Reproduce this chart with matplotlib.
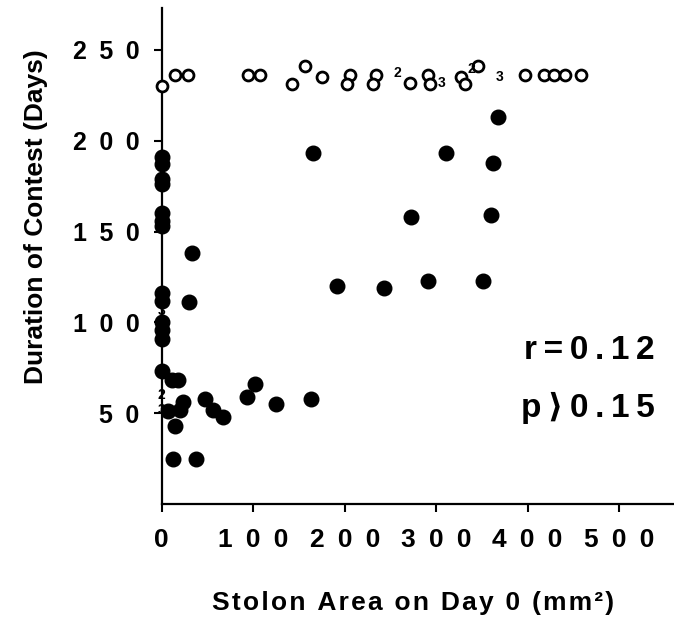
#Bibliotecas utilizadas.
import matplotlib.pyplot as plt
import numpy as np

#Fonte: Liberation Sans com DejaVu Sans para os sinais que faltam.
plt.rcParams['font.family'] = ['Liberation Sans', 'DejaVu Sans']
plt.rcParams['font.weight'] = 'bold'

#Pontos cheios (area do estolao, duracao).
cheios_x = [0, 0, 0, 0, 0, 0, 0, 0, 0, 0, 0, 0, 0,
            10.9, 18.1, 23.6, 7.2, 20, 14.5, 47.3, 56.3, 66.6, 101.9, 93.5, 124.8,
            12, 37.4, 32.7, 30, 165.5, 192, 242.7, 163.7,
            367.5, 310.4, 362.4, 272.9, 360.3, 291, 350.8]
cheios_y = [191, 187, 179, 176, 160, 156, 153, 116, 112, 100, 96, 91, 73,
            68, 68, 56, 51, 52, 43, 58, 52, 48, 66, 59, 55,
            25, 25, 138, 111, 193, 120, 119, 58,
            213, 193, 188, 158, 159, 123, 123]

#Pontos abertos (linha de cima).
abertos_x = [0, 14.5, 29, 94.5, 107.3, 141.9, 156.4, 174.7, 205.6, 202, 234.7, 231,
             271, 291, 292.9, 327.5, 331, 345.6, 396.6, 418.4, 429.3, 440.3, 458.5]
abertos_y = [230, 236, 236, 236, 236, 231, 241, 235, 236, 231, 236, 231,
             232, 236, 231, 235, 231, 241, 236, 236, 236, 236, 236]

#Numeros de pontos sobrepostos.
rotulos_x = [257, 306, 338.5, 369, 0, 0, 0]
rotulos_y = [237, 232, 239.5, 235, 106.5, 60, 51.5]
rotulos_txt = ["2", "3", "2", "3", "3", "2", "3"]

#Eixos.
ticks_x = [0, 100, 200, 300, 400, 500]
ticks_y = [50, 100, 150, 200, 250]

def espacar(texto, sep="\u2002"):
    return sep.join(texto)

fig = plt.figure(figsize=(6.74, 6.23), dpi=100)
ax = fig.add_axes([0.24, 0.191, 0.76, 0.796])
ax.set_xlim(0, 560)
ax.set_ylim(0, 273)

ax.scatter(abertos_x, abertos_y, s=62, facecolors="white", edgecolors="black",
           linewidths=2.0, zorder=3, clip_on=False)
ax.scatter(cheios_x, cheios_y, s=110, color="black", zorder=4, clip_on=False)
for x, y, t in zip(rotulos_x, rotulos_y, rotulos_txt):
    ax.text(x, y, t, fontsize=10, ha="center", va="center", zorder=5)

ax.spines["top"].set_visible(False)
ax.spines["right"].set_visible(False)
ax.spines["left"].set_linewidth(1.6)
ax.spines["bottom"].set_linewidth(1.6)

ax.set_xticks(ticks_x)
ax.set_xticklabels([espacar(str(t)) for t in ticks_x], fontsize=19, fontweight="bold")
ax.set_yticks(ticks_y)
ax.set_yticklabels([espacar(str(t)) for t in ticks_y], fontsize=18, fontweight="bold")
ax.tick_params(axis="x", length=6, width=1.5, pad=11)
ax.tick_params(axis="y", length=6, width=1.5, pad=10)

ax.set_xlabel(espacar("Stolon Area on Day 0 (mm²)", "\u200a"), fontsize=19,
              fontweight="bold")
ax.xaxis.set_label_coords(0.49, -0.175)
ax.set_ylabel("Duration of Contest (Days)", fontsize=19, fontweight="bold")
ax.yaxis.set_label_coords(-0.222, 0.579)

#Texto da correlacao.
ax.text(0.963, 0.31, espacar("r=0.12", "\u2009"), transform=ax.transAxes, fontsize=24,
        fontweight="bold", ha="right", va="center")
ax.text(0.963, 0.194, espacar("p\u27e90.15", "\u2009"), transform=ax.transAxes, fontsize=24,
        fontweight="bold", ha="right", va="center")

fig.savefig("out.png", dpi=100)
